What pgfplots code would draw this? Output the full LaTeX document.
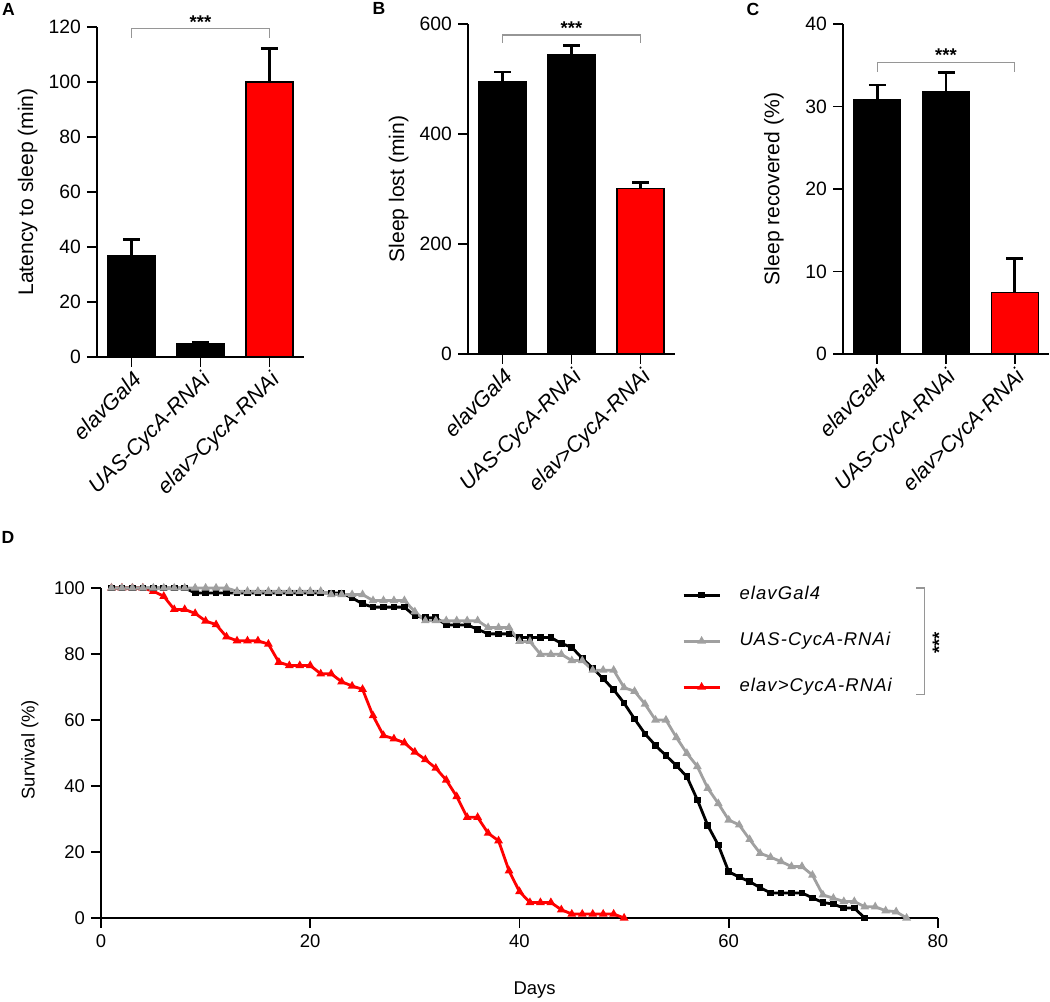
\documentclass[border=0pt]{standalone}
\usepackage{fontspec}
\setmainfont{Liberation Sans}
\newfontfamily\legfont[LetterSpace=6]{Liberation Sans}
\usepackage{pgfplots}
\pgfplotsset{compat=1.18}

\definecolor{ugray}{RGB}{160,160,160}
\definecolor{brk}{RGB}{150,150,150}

\tikzset{stars/.style={anchor=base, inner sep=0pt, font=\bfseries\fontsize{10.5}{12}\selectfont}}

\pgfplotsset{
  barpanel/.style={
    scale only axis, width=4.14cm, height=6.6cm, anchor=south west,
    axis x line*=bottom, axis y line*=left,
    axis line style={line width=1pt, black},
    tick style={line width=1pt, black},
    tick align=outside, major tick length=0.2cm,
    xmin=-0.5, xmax=2.5, ymin=0,
    xtick={0,1,2},
    xticklabels={elavGal4, UAS-CycA-RNAi, elav>CycA-RNAi},
    x tick label style={rotate=45, anchor=north east, inner sep=1pt,
      font=\fontsize{12.3}{14}\selectfont\itshape},
    y tick label style={font=\fontsize{11}{13}\selectfont},
    ylabel style={font=\fontsize{12}{14}\selectfont,
      at={(axis description cs:-0.335,0.5)}, anchor=center},
    /pgf/number format/assume math mode=true,
    clip=false,
  },
  bars/.style={ybar, bar width=0.94cm, bar shift=0pt, draw=black,
    line width=0.6pt, fill=#1,
    error bars/.cd, y dir=plus, y explicit,
    error bar style={line width=1.6pt, black},
    error mark options={rotate=90, mark size=0.17cm, line width=1.6pt, black}},
}

\begin{document}
\begin{tikzpicture}
\useasboundingbox (0,0) rectangle (21cm,20.04cm);

% A: latency
\begin{axis}[barpanel, at={(1.94cm,12.9cm)}, ymax=120, ytick={0,20,...,120},
  ylabel={Latency to sleep (min)}]
\addplot[bars=black] coordinates {(0,36.8) +- (0,5.9) (1,5.0) +- (0,0.2)};
\addplot[bars=red] coordinates {(2,100) +- (0,12.3)};
\draw[brk, line width=0.6pt] (axis cs:0,116) |- (axis cs:2,119.3) -- (axis cs:2,116);
\node[stars] at (axis cs:1,119.6) {***};
\end{axis}

% B: sleep lost
\begin{axis}[barpanel, at={(9.36cm,12.96cm)}, ymax=600, ytick={0,200,400,600},
  ylabel={Sleep lost (min)}]
\addplot[bars=black] coordinates {(0,495) +- (0,17.7) (1,543.6) +- (0,17.4)};
\addplot[bars=red] coordinates {(2,301) +- (0,11)};
\draw[brk, line width=0.6pt] (axis cs:0,565.5) |- (axis cs:2,580) -- (axis cs:2,565.5);
\node[stars] at (axis cs:1,581) {***};
\end{axis}

% C: sleep recovered
\begin{axis}[barpanel, at={(16.86cm,12.96cm)}, width=4.12cm, ymax=40, ytick={0,10,...,40},
  ylabel={Sleep recovered (\%)}]
\addplot[bars=black] coordinates {(0,30.9) +- (0,1.7) (1,31.8) +- (0,2.3)};
\addplot[bars=red] coordinates {(2,7.4) +- (0,4.2)};
\draw[brk, line width=0.6pt] (axis cs:0,34.2) |- (axis cs:2,35.3) -- (axis cs:2,34.2);
\node[stars] at (axis cs:1,35.4) {***};
\end{axis}

% D: survival
\begin{axis}[scale only axis, width=16.74cm, height=6.6cm, anchor=south west,
  at={(2.02cm,1.68cm)},
  axis x line*=bottom, axis y line*=left,
  axis line style={line width=1pt, black},
  tick style={line width=1pt, black},
  tick align=outside, major tick length=0.2cm,
  xmin=0, xmax=80, ymin=0, ymax=100,
  xtick={0,20,...,80}, ytick={0,20,...,100},
  tick label style={font=\fontsize{10.5}{12}\selectfont},
  /pgf/number format/assume math mode=true,
  xlabel={Days}, ylabel={Survival (\%)},
  label style={font=\fontsize{10.5}{12}\selectfont},
  xlabel style={at={(axis description cs:0.518,-0.218)}, anchor=center},
  ylabel style={at={(axis description cs:-0.085,0.51)}, anchor=center},
  clip=false,
  legend image code/.code={\draw[mark repeat=2, mark phase=2, #1]
    plot coordinates {(0cm,0cm) (0.36cm,0cm) (0.72cm,0cm)};},
  legend style={at={(axis description cs:0.694,0.839)}, anchor=west,
    draw=none, fill=none, inner sep=0pt,
    font=\legfont\itshape\fontsize{10.5}{12}\selectfont,
    nodes={inner sep=2pt, text height=8pt, text depth=2.5pt},
    row sep=0.41cm, column sep=0.3cm},
  legend cell align=left,
]
\addplot[red, line width=1.6pt, mark=triangle*, mark size=1.3pt, forget plot] coordinates {
(1,100)(2,100)(3,100)(4,100)(5,99)(6,97.5)(7,93.5)(8,93.5)(9,92.3)(10,90)
(11,88.9)(12,85.2)(13,84)(14,84)(15,84)(16,83)(17,77.5)(18,76.5)(19,76.5)(20,76.5)
(21,74)(22,74)(23,71.6)(24,70.3)(25,69.3)(26,61.3)(27,55.3)(28,54.3)(29,53.1)(30,50.3)
(31,48)(32,45.4)(33,41.8)(34,36.8)(35,30.5)(36,30.5)(37,25.7)(38,23.4)(39,14.3)(40,8)
(41,4.7)(42,4.7)(43,4.7)(44,2.5)(45,1.2)(46,1.2)(47,1.2)(48,1.2)(49,1.2)(50,0)};
\addplot[black, line width=1.6pt, mark=square*, mark size=1.1pt, forget plot] coordinates {
(1,100)(2,100)(3,100)(4,100)(5,100)(6,100)(7,100)(8,100)(9,98.5)(10,98.5)
(11,98.5)(12,98.5)(13,98.5)(14,98.5)(15,98.5)(16,98.5)(17,98.5)(18,98.5)(19,98.5)(20,98.5)
(21,98.5)(22,98.5)(23,98.5)(24,97)(25,95.2)(26,94.2)(27,94.2)(28,94.2)(29,94.2)(30,91.5)
(31,91)(32,91)(33,88.8)(34,88.8)(35,88.8)(36,87.5)(37,86.1)(38,86.1)(39,86.1)(40,85)
(41,85)(42,85)(43,85)(44,83.2)(45,82)(46,78.7)(47,75.7)(48,72.5)(49,69.2)(50,65.1)
(51,60.3)(52,55.8)(53,52.3)(54,49.2)(55,46.2)(56,42.8)(57,35.8)(58,28)(59,22.1)(60,14)
(61,12.4)(62,11)(63,9.2)(64,7.6)(65,7.6)(66,7.6)(67,7.6)(68,6.1)(69,4.7)(70,4.2)
(71,3)(72,3)(73,0)};
\addplot[ugray, line width=1.6pt, mark=triangle*, mark size=1.3pt, forget plot] coordinates {
(1,100)(2,100)(3,100)(4,100)(5,100)(6,100)(7,100)(8,100)(9,100)(10,100)
(11,100)(12,100)(13,99)(14,99)(15,99)(16,99)(17,99)(18,99)(19,99)(20,99)
(21,99)(22,98)(23,98)(24,98)(25,98)(26,96.2)(27,96.2)(28,96.2)(29,96.2)(30,92.8)
(31,90.1)(32,90.1)(33,90.1)(34,90.1)(35,90.1)(36,90.1)(37,88)(38,88)(39,88)(40,83.8)
(41,83.8)(42,79.9)(43,79.9)(44,79.9)(45,78)(46,78)(47,75.1)(48,75.1)(49,75.1)(50,69.8)
(51,68.7)(52,64.8)(53,60)(54,60)(55,54.7)(56,49.9)(57,45.9)(58,39.3)(59,34.7)(60,29.7)
(61,28.2)(62,23.8)(63,19.6)(64,18.4)(65,17.1)(66,15.6)(67,15.6)(68,13)(69,7)(70,6)
(71,5)(72,5)(73,3.4)(74,3.4)(75,2.2)(76,1.9)(77,0)};
\addlegendimage{black, line width=1.6pt, mark=square*, mark size=1.1pt}
\addlegendentry{elavGal4}
\addlegendimage{ugray, line width=1.6pt, mark=triangle*, mark size=1.3pt}
\addlegendentry{UAS-CycA-RNAi}
\addlegendimage{red, line width=1.6pt, mark=triangle*, mark size=1.3pt}
\addlegendentry{elav>CycA-RNAi}
\draw[brk, line width=0.6pt] (axis cs:77.9,100) -- (axis cs:78.7,100)
  -- (axis cs:78.7,67.6) -- (axis cs:77.9,67.6);
\node[rotate=90, inner sep=0pt, font=\bfseries\fontsize{10.5}{12}\selectfont]
  at (axis cs:80.1,83.3) {***};
\end{axis}

\node[font=\bfseries\fontsize{10}{12}\selectfont] at (0.17cm,19.86cm) {A};
\node[font=\bfseries\fontsize{10}{12}\selectfont] at (7.58cm,19.87cm) {B};
\node[font=\bfseries\fontsize{10}{12}\selectfont] at (15.06cm,19.86cm) {C};
\node[font=\bfseries\fontsize{10}{12}\selectfont] at (0.16cm,9.3cm) {D};
\end{tikzpicture}
\end{document}
